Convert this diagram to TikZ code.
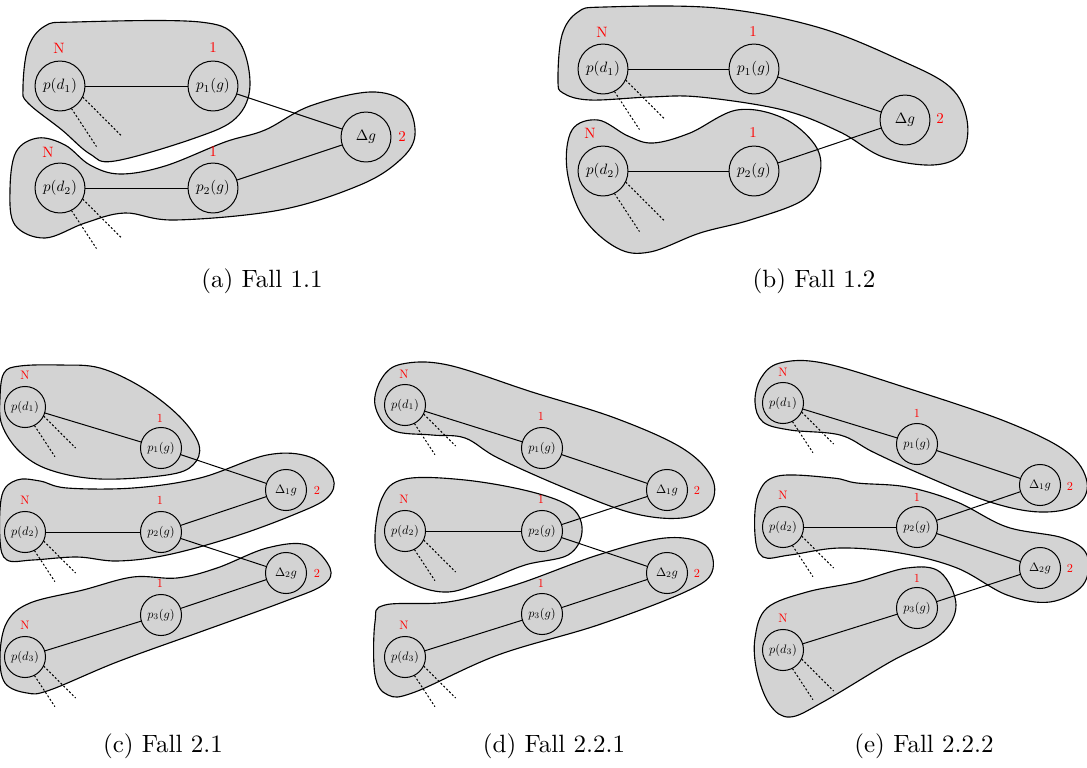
\documentclass[tikz,border=0pt]{standalone}
\definecolor{blobgray}{RGB}{211,211,211}
\tikzset{
  blob/.style={draw, fill=blobgray, line width=0.45pt},
  bignode/.style={circle, draw, minimum size=33.3pt, inner sep=0pt, scale=0.6, transform shape},
  smallnode/.style={circle, draw, minimum size=33.5pt, inner sep=0pt, scale=0.49, transform shape},
  biglab/.style={text=red, inner sep=0pt, scale=0.6, transform shape},
  smalllab/.style={text=red, inner sep=0pt, scale=0.49, transform shape},
  stub/.style={dash pattern=on 0.8pt off 0.8pt},
  capt/.style={font=\normalsize}
}
% two dashed stubs leaving a p(d) node; #2 scales them
\newcommand\stubpair[2]{%
  \draw[stub] (#1.-26) -- ++(39*#2,39*#2);
  \draw[stub] (#1.-63) -- ++(25*#2,38*#2);}
\begin{document}
\begin{tikzpicture}[x=0.4pt,y=-0.4pt]
\useasboundingbox (0,0) rectangle (1087,767);

% ---------- (a) ----------
\draw[blob] plot[smooth cycle, tension=0.6] coordinates {(23,88) (28,48) (45,26) (75,22) (200,22) (238,40) (250,85) (236,118) (195,138) (115,161) (90,154) (62,130) (28,103)};
\draw[blob] plot[smooth cycle, tension=0.6] coordinates {(10,190) (16,152) (38,138) (65,145) (90,165) (120,174) (165,166) (225,142) (265,130) (310,106) (370,92) (405,103) (415,135) (400,160) (360,185) (280,210) (175,220) (125,213) (85,223) (45,238) (15,225)};
\node[bignode] (a-pd1) at (60,86) {$p(d_1)$};
\node[bignode] (a-p1) at (213,86) {$p_1(g)$};
\node[bignode] (a-dg) at (366,137) {$\Delta g$};
\node[bignode] (a-pd2) at (60,188) {$p(d_2)$};
\node[bignode] (a-p2) at (213,188) {$p_2(g)$};
\node[biglab] (a-l1) at (59,48) {N};
\node[biglab] (a-l2) at (213,48) {1};
\node[biglab] (a-l3) at (402,137) {2};
\node[biglab] (a-l4) at (48,152) {N};
\node[biglab] (a-l5) at (213,152) {1};
\draw (a-pd1) -- (a-p1);
\draw (a-p1) -- (a-dg);
\draw (a-pd2) -- (a-p2);
\draw (a-p2) -- (a-dg);
\stubpair{a-pd1}{1}
\stubpair{a-pd2}{1}
\node[capt] (a-cap) at (262,281) {(a) Fall 1.1};

% ---------- (b) ----------
\draw[blob] plot[smooth cycle, tension=0.6] coordinates {(558,80) (562,35) (578,12) (605,7) (717,8) (817,27) (900,60) (950,87) (967,120) (962,153) (933,165) (883,157) (840,132) (783,110) (700,97) (650,97) (590,100) (563,93)};
\draw[blob] plot[smooth cycle, tension=0.6] coordinates {(567,170) (572,130) (598,120) (628,136) (653,143) (690,133) (737,110) (783,118) (815,145) (820,173) (803,200) (750,220) (700,233) (650,252) (617,248) (583,217)};
\node[bignode] (b-pd1) at (603,69) {$p(d_1)$};
\node[bignode] (b-p1) at (754,69) {$p_1(g)$};
\node[bignode] (b-dg) at (905,120) {$\Delta g$};
\node[bignode] (b-pd2) at (603,171) {$p(d_2)$};
\node[bignode] (b-p2) at (754,171) {$p_2(g)$};
\node[biglab] (b-l1) at (602,32) {N};
\node[biglab] (b-l2) at (753,32) {1};
\node[biglab] (b-l3) at (940,119) {2};
\node[biglab] (b-l4) at (590,133) {N};
\node[biglab] (b-l5) at (753,133) {1};
\draw (b-pd1) -- (b-p1);
\draw (b-p1) -- (b-dg);
\draw (b-pd2) -- (b-p2);
\draw (b-p2) -- (b-dg);
\stubpair{b-pd1}{1}
\stubpair{b-pd2}{1}
\node[capt] (b-cap) at (814,281) {(b) Fall 1.2};

% ---------- (c) ----------
\draw[blob] plot[smooth cycle, tension=0.6] coordinates {(0,398) (4,373) (20,366) (60,365) (100,368) (143,388) (180,417) (199,445) (193,465) (167,475) (100,479) (50,470) (20,452) (2,425)};
\draw[blob] plot[smooth cycle, tension=0.6] coordinates {(0,540) (2,495) (17,480) (40,481) (67,488) (133,488) (200,478) (267,455) (310,457) (333,478) (327,498) (293,515) (233,537) (167,555) (117,561) (77,557) (33,560) (7,560)};
\draw[blob] plot[smooth cycle, tension=0.6] coordinates {(0,655) (7,622) (30,603) (83,590) (133,577) (177,578) (217,568) (267,548) (307,545) (330,568) (323,585) (283,602) (200,632) (117,662) (50,690) (27,693) (5,683)};
\node[smallnode] (c-pd1) at (25,407) {$p(d_1)$};
\node[smallnode] (c-p1) at (161,448) {$p_1(g)$};
\node[smallnode] (c-d1) at (286,490) {$\Delta_1 g$};
\node[smallnode] (c-pd2) at (25,532) {$p(d_2)$};
\node[smallnode] (c-p2) at (161,532) {$p_2(g)$};
\node[smallnode] (c-d2) at (286,573) {$\Delta_2 g$};
\node[smallnode] (c-p3) at (161,615) {$p_3(g)$};
\node[smallnode] (c-pd3) at (25,657) {$p(d_3)$};
\node[smalllab] (c-l1) at (25,375) {N};
\node[smalllab] (c-l2) at (160,418) {1};
\node[smalllab] (c-l3) at (317,490) {2};
\node[smalllab] (c-l4) at (25,500) {N};
\node[smalllab] (c-l5) at (160,500) {1};
\node[smalllab] (c-l6) at (317,573) {2};
\node[smalllab] (c-l7) at (160,583) {1};
\node[smalllab] (c-l8) at (25,625) {N};
\draw (c-pd1) -- (c-p1);
\draw (c-p1) -- (c-d1);
\draw (c-pd2) -- (c-p2);
\draw (c-p2) -- (c-d1);
\draw (c-p2) -- (c-d2);
\draw (c-pd3) -- (c-p3);
\draw (c-p3) -- (c-d2);
\stubpair{c-pd1}{0.82}
\stubpair{c-pd2}{0.82}
\stubpair{c-pd3}{0.82}
\node[capt] (c-cap) at (163,746) {(c) Fall 2.1};

% ---------- (d) ----------
\draw[blob] plot[smooth cycle, tension=0.6] coordinates {(375,405) (382,378) (402,364) (448,365) (532,392) (615,418) (682,448) (712,478) (710,505) (682,518) (632,513) (565,488) (498,458) (465,438) (432,435) (392,430)};
\draw[blob] plot[smooth cycle, tension=0.6] coordinates {(375,542) (382,498) (405,479) (465,480) (532,492) (572,508) (582,532) (568,555) (525,565) (482,582) (448,592) (415,585) (385,565)};
\draw[blob] plot[smooth cycle, tension=0.6] coordinates {(375,622) (385,605) (448,602) (515,585) (598,555) (665,538) (705,545) (712,572) (685,592) (598,625) (498,655) (415,692) (388,695) (375,675)};
\node[smallnode] (d-pd1) at (405,405) {$p(d_1)$};
\node[smallnode] (d-p1) at (542,448) {$p_1(g)$};
\node[smallnode] (d-d1) at (667,490) {$\Delta_1 g$};
\node[smallnode] (d-pd2) at (405,531) {$p(d_2)$};
\node[smallnode] (d-p2) at (542,531) {$p_2(g)$};
\node[smallnode] (d-d2) at (667,573) {$\Delta_2 g$};
\node[smallnode] (d-p3) at (542,614) {$p_3(g)$};
\node[smallnode] (d-pd3) at (405,657) {$p(d_3)$};
\node[smalllab] (d-l1) at (404,374) {N};
\node[smalllab] (d-l2) at (541,416) {1};
\node[smalllab] (d-l3) at (697,490) {2};
\node[smalllab] (d-l4) at (404,499) {N};
\node[smalllab] (d-l5) at (541,499) {1};
\node[smalllab] (d-l6) at (697,573) {2};
\node[smalllab] (d-l7) at (541,583) {1};
\node[smalllab] (d-l8) at (404,625) {N};
\draw (d-pd1) -- (d-p1);
\draw (d-p1) -- (d-d1);
\draw (d-pd2) -- (d-p2);
\draw (d-p2) -- (d-d1);
\draw (d-p2) -- (d-d2);
\draw (d-pd3) -- (d-p3);
\draw (d-p3) -- (d-d2);
\stubpair{d-pd1}{0.82}
\stubpair{d-pd2}{0.82}
\stubpair{d-pd3}{0.82}
\node[capt] (d-cap) at (554,746) {(d) Fall 2.2.1};

% ---------- (e) ----------
\draw[blob] plot[smooth cycle, tension=0.6] coordinates {(755,402) (761,378) (780,363) (823,363) (907,388) (1007,422) (1067,452) (1087,482) (1077,505) (1040,512) (990,502) (923,475) (873,452) (840,435) (790,430) (763,422)};
\draw[blob] plot[smooth cycle, tension=0.6] coordinates {(755,535) (758,495) (778,476) (833,478) (857,483) (907,487) (957,502) (1007,527) (1063,538) (1087,555) (1083,585) (1050,602) (1007,595) (957,568) (900,553) (840,548) (790,555) (763,557)};
\draw[blob] plot[smooth cycle, tension=0.6] coordinates {(755,638) (767,608) (807,592) (857,582) (907,568) (940,572) (956,605) (940,635) (890,662) (823,702) (790,717) (770,705) (757,672)};
\node[smallnode] (e-pd1) at (783,403) {$p(d_1)$};
\node[smallnode] (e-p1) at (917,444) {$p_1(g)$};
\node[smallnode] (e-d1) at (1040,485) {$\Delta_1 g$};
\node[smallnode] (e-pd2) at (783,527) {$p(d_2)$};
\node[smallnode] (e-p2) at (917,527) {$p_2(g)$};
\node[smallnode] (e-d2) at (1040,568) {$\Delta_2 g$};
\node[smallnode] (e-p3) at (917,608) {$p_3(g)$};
\node[smallnode] (e-pd3) at (783,650) {$p(d_3)$};
\node[smalllab] (e-l1) at (783,372) {N};
\node[smalllab] (e-l2) at (917,413) {1};
\node[smalllab] (e-l3) at (1070,486) {2};
\node[smalllab] (e-l4) at (783,495) {N};
\node[smalllab] (e-l5) at (917,497) {1};
\node[smalllab] (e-l6) at (1070,568) {2};
\node[smalllab] (e-l7) at (917,578) {1};
\node[smalllab] (e-l8) at (783,618) {N};
\draw (e-pd1) -- (e-p1);
\draw (e-p1) -- (e-d1);
\draw (e-pd2) -- (e-p2);
\draw (e-p2) -- (e-d1);
\draw (e-p2) -- (e-d2);
\draw (e-pd3) -- (e-p3);
\draw (e-p3) -- (e-d2);
\stubpair{e-pd1}{0.82}
\stubpair{e-pd2}{0.82}
\stubpair{e-pd3}{0.82}
\node[capt] (e-cap) at (924,746) {(e) Fall 2.2.2};
\end{tikzpicture}
\end{document}
